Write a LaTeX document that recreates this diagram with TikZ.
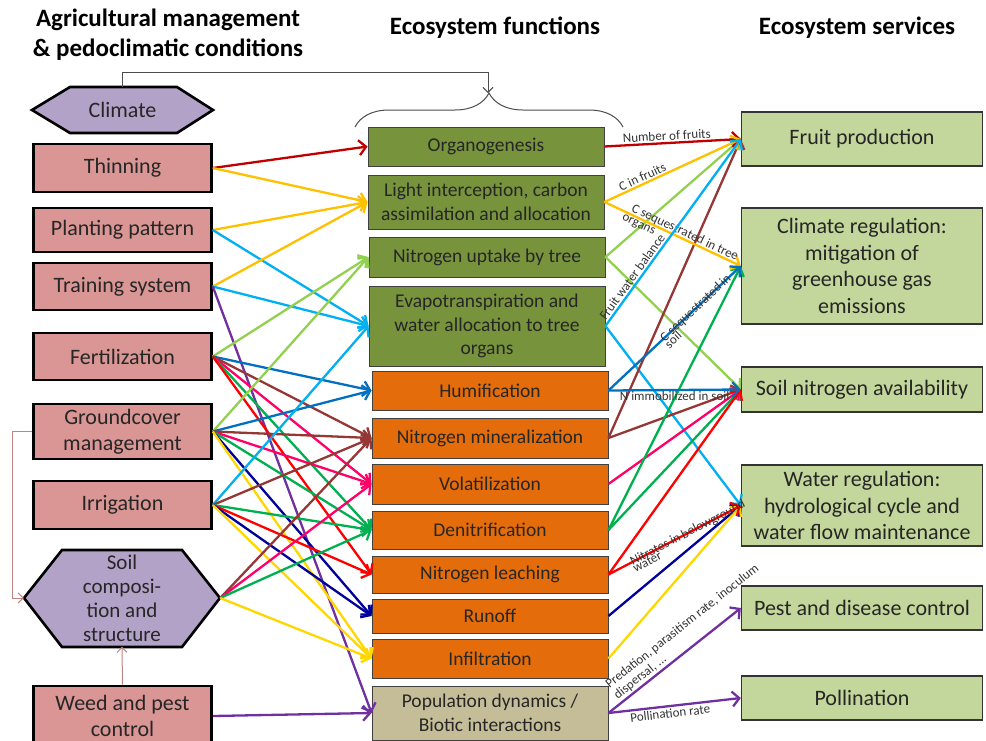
\documentclass[tikz,border=0pt]{standalone}
\usepackage{fontspec}
\setmainfont{Carlito}
\usetikzlibrary{arrows.meta,decorations.pathreplacing}
\definecolor{agrpink}{HTML}{D99694}
\definecolor{hexlilac}{HTML}{B3A2C7}
\definecolor{funcolive}{HTML}{77933C}
\definecolor{funcorange}{HTML}{E46C0A}
\definecolor{poptan}{HTML}{C4BD97}
\definecolor{servgreen}{HTML}{C3D69B}
\definecolor{cDarkRed}{HTML}{C00000}
\definecolor{cRed}{HTML}{FF0000}
\definecolor{cGold}{HTML}{FFC000}
\definecolor{cYellow}{HTML}{FFD700}
\definecolor{cCyan}{HTML}{00B0F0}
\definecolor{cLime}{HTML}{92D050}
\definecolor{cBlue}{HTML}{0070C0}
\definecolor{cBrown}{HTML}{953735}
\definecolor{cPink}{HTML}{FF0066}
\definecolor{cGreen}{HTML}{00B050}
\definecolor{cNavy}{HTML}{00009A}
\definecolor{cPurple}{HTML}{7030A0}
\definecolor{cRose}{HTML}{C08580}
\newcommand{\boxfont}{\fontsize{22}{26.5}\selectfont}
\newcommand{\funcfont}{\fontsize{19.5}{23.5}\selectfont}
\tikzset{
  agr/.style={draw=black, line width=2.6pt, fill=agrpink, minimum width=178pt, align=center, font=\boxfont, text=black!85},
  hexnode/.style={align=center, font=\boxfont, text=black!85, inner sep=0pt},
  hexline/.style={draw=black, line width=2.6pt, fill=hexlilac, line join=miter},
  func/.style={draw=black!75, line width=0.9pt, minimum width=236pt, align=center, font=\funcfont, text=black!85},
  serv/.style={draw=black!80, line width=1.3pt, fill=servgreen, minimum width=241pt, align=center, font=\boxfont, text=black!85},
  head/.style={font=\fontsize{25}{30}\selectfont\bfseries, align=center},
  arr/.style={line width=2.3pt, -{Straight Barb[length=7pt,width=15pt]}},
  link/.style={line width=1pt, -{Straight Barb[length=5pt,width=10pt]}},
  lbl/.style={font=\fontsize{13}{13.5}\selectfont, text=black!80, inner sep=1.5pt}
}
\begin{document}
\begin{tikzpicture}[x=1pt,y=-1pt]
\useasboundingbox (0,0) rectangle (986,740);
% headers
\node[head] (hagr) at (168,35) {Agricultural management\\\& pedoclimatic conditions};
\node[head] (hfun) at (495,28) {Ecosystem functions};
\node[head] (hser) at (857,28) {Ecosystem services};
% management and pedoclimatic conditions
\draw[hexline] (32,110) -- (70,87) -- (177,87) -- (213,110) -- (177,133) -- (70,133) -- cycle;
\node[hexnode, minimum width=181pt, minimum height=46pt] (climate) at (122.5,110) {Climate};
\node[agr, minimum height=48pt] (thin) at (122.5,168) {Thinning};
\node[agr, minimum height=44pt] (plant) at (122.5,230) {Planting pattern};
\node[agr, minimum height=47pt] (train) at (122.5,286.5) {Training system};
\node[agr, minimum height=47pt] (fert) at (122.5,356.5) {Fertilization};
\node[agr, minimum height=55pt] (ground) at (122.5,431.5) {Groundcover\\management};
\node[agr, minimum height=48pt] (irrig) at (122.5,505) {Irrigation};
\draw[hexline] (24,598) -- (62,550) -- (182,550) -- (220,598) -- (182,647) -- (62,647) -- cycle;
\node[hexnode, minimum width=196pt, minimum height=97pt, font=\fontsize{21}{24}\selectfont] (soil) at (122,598) {Soil\\composi-\\tion and\\structure};
\node[agr, minimum height=60pt] (weed) at (122.5,716) {Weed and pest\\control};
% ecosystem functions
\node[func, fill=funcolive, minimum height=39pt] (org) at (486,146.5) {Organogenesis};
\node[func, fill=funcolive, minimum height=54pt] (light) at (486,202) {Light interception, carbon\\assimilation and allocation};
\node[func, fill=funcolive, minimum height=40pt] (nup) at (487,257) {Nitrogen uptake by tree};
\node[func, fill=funcolive, minimum height=80pt] (evap) at (487,326) {Evapotranspiration and\\water allocation to tree\\organs};
\node[func, fill=funcorange, minimum height=39pt] (humi) at (490,390.5) {Humification};
\node[func, fill=funcorange, minimum height=40pt] (minr) at (490,438) {Nitrogen mineralization};
\node[func, fill=funcorange, minimum height=40pt] (vola) at (490,484) {Volatilization};
\node[func, fill=funcorange, minimum height=38pt] (deni) at (490,530) {Denitrification};
\node[func, fill=funcorange, minimum height=37pt] (leach) at (490,574.5) {Nitrogen leaching};
\node[func, fill=funcorange, minimum height=34pt] (runoff) at (490,616) {Runoff};
\node[func, fill=funcorange, minimum height=39pt] (infil) at (490,658.5) {Infiltration};
\node[func, fill=poptan, minimum height=54pt] (pop) at (490,713) {Population dynamics /\\Biotic interactions};
% ecosystem services
\node[serv, minimum height=54pt] (fruit) at (862,139) {Fruit production};
\node[serv, minimum height=116pt] (climreg) at (862,266) {Climate regulation:\\mitigation of\\greenhouse gas\\emissions};
\node[serv, minimum height=45pt] (soiln) at (862,389.5) {Soil nitrogen availability};
\node[serv, minimum height=81pt] (water) at (862,505.5) {Water regulation:\\hydrological cycle and\\water flow maintenance};
\node[serv, minimum height=44pt] (pest) at (862,608) {Pest and disease control};
\node[serv, minimum height=44pt] (poll) at (862,698) {Pollination};
% climate acts on all functions
\coordinate (brkcorner) at (488,72);
\coordinate (bracetip) at (488,93);
\draw[link, draw=black!70] (climate.north) |- (brkcorner) -- (bracetip);
\draw[draw=black!70, line width=1pt, decorate, decoration={brace, amplitude=34pt}] (355,127) -- (623,127);
% links inside the left column
\draw[link, draw=cRose] (ground.west) -- ++(-20,0) |- (soil.west);
\draw[link, draw=cRose] (weed.north) -- (soil.south);
% management -> functions
\draw[arr, draw=cDarkRed] (thin.east) -- (org.west);
\draw[arr, draw=cGold] (thin.east) -- (light.west);
\draw[arr, draw=cGold] (plant.east) -- (light.west);
\draw[arr, draw=cCyan] (plant.east) -- (evap.west);
\draw[arr, draw=cGold] (train.east) -- (light.west);
\draw[arr, draw=cCyan] (train.east) -- (evap.west);
\draw[arr, draw=cPurple] (train.east) -- (pop.west);
\foreach \t/\c in {nup/cLime,humi/cBlue,minr/cBrown,vola/cPink,deni/cGreen,leach/cRed}
  \draw[arr, draw=\c] (fert.east) -- (\t.west);
\foreach \t/\c in {nup/cLime,humi/cBlue,minr/cBrown,vola/cPink,deni/cGreen,runoff/cNavy,infil/cYellow}
  \draw[arr, draw=\c] (ground.east) -- (\t.west);
\foreach \t/\c in {evap/cCyan,minr/cBrown,deni/cGreen,leach/cRed,runoff/cNavy,infil/cYellow}
  \draw[arr, draw=\c] (irrig.east) -- (\t.west);
\foreach \t/\c in {minr/cBrown,vola/cPink,deni/cGreen,infil/cYellow}
  \draw[arr, draw=\c] (soil.east) -- (\t.west);
\draw[arr, draw=cPurple] (weed.east) -- (pop.west);
% functions -> services
\draw[arr, draw=cLime] (nup.east) -- (fruit.west);
\draw[arr, draw=cLime] (nup.east) -- (soiln.west);
\draw[arr, draw=cCyan] (evap.east) -- (water.west);
\draw[arr, draw=cBrown] (minr.east) -- (fruit.west);
\draw[arr, draw=cBrown] (minr.east) -- (soiln.west);
\draw[arr, draw=cPink] (vola.east) -- (soiln.west);
\draw[arr, draw=cGreen] (deni.east) -- (climreg.west);
\draw[arr, draw=cGreen] (deni.east) -- (soiln.west);
\draw[arr, draw=cRed] (leach.east) -- (soiln.west);
\draw[arr, draw=cNavy] (runoff.east) -- (water.west);
\draw[arr, draw=cYellow] (infil.east) -- (water.west);
\draw[arr, draw=cDarkRed] (org.east) -- node[lbl, above, sloped, pos=.46] {Number of fruits} (fruit.west);
\draw[arr, draw=cGold] (light.east) -- node[lbl, above, sloped, pos=.3] {C in fruits} (fruit.west);
\draw[arr, draw=cGold] (light.east) -- node[lbl, above=-2pt, sloped, pos=.57] {C sequestrated in tree} node[lbl, below, sloped, pos=.27] {organs} (climreg.west);
\draw[arr, draw=cCyan] (evap.east) -- node[lbl, above, sloped, pos=.24] {Fruit water balance} (fruit.west);
\draw[arr, draw=cBlue] (humi.east) -- node[lbl, sloped, pos=.66] {C sequestrated in} node[lbl, below, sloped, pos=.45] {soil} (climreg.west);
\draw[arr, draw=cBlue] (humi.east) -- node[lbl, below=-1pt] {N immobilized in soil} (soiln.west);
\draw[arr, draw=cRed] (leach.east) -- node[lbl, sloped, pos=.6] {Nitrates in belowground} node[lbl, below, sloped, pos=.27] {water} (water.west);
\draw[arr, draw=cPurple] (pop.east) -- node[lbl, above, sloped, pos=.66, align=left] {Predation, parasitism rate, inoculum\\dispersal, ...} (pest.west);
\draw[arr, draw=cPurple] (pop.east) -- node[lbl, below, sloped, pos=.46] {Pollination rate} (poll.west);
\end{tikzpicture}
\end{document}
